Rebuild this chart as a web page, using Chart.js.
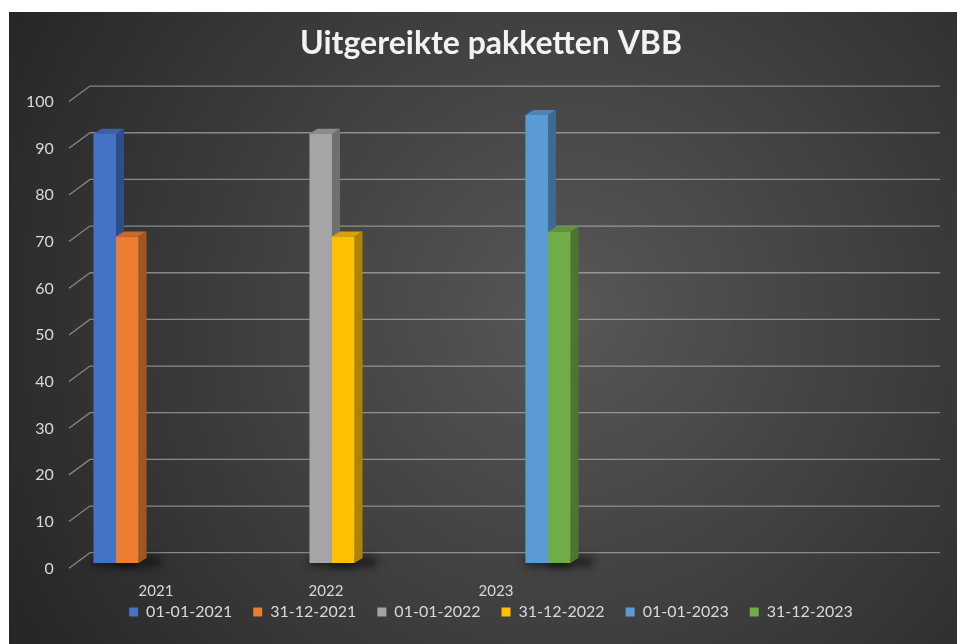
<!DOCTYPE html>
<html>
<head>
<meta charset="utf-8">
<script src="https://cdn.jsdelivr.net/npm/chart.js@4.4.0/dist/chart.umd.min.js"></script>
<style>
  html, body { margin: 0; background: #fff; }
  #wrap { position: absolute; left: 9px; top: 12px; width: 948px; height: 632px; }
</style>
</head>
<body>
<div id="wrap"><canvas id="grafiek" width="948" height="632"></canvas></div>
<script>
// gegevens
const categorieen = ['2021', '2022', '2023'];
const labelsBegin = ['01-01-2021', '01-01-2022', '01-01-2023'];
const labelsEind = ['31-12-2021', '31-12-2022', '31-12-2023'];
const waardenBegin = [92, 92, 96];
const waardenEind = [70, 70, 71];
const yTicks = [0, 10, 20, 30, 40, 50, 60, 70, 80, 90, 100];

const kleurenBegin = ['#4472C4', '#A5A5A5', '#5B9BD5'];
const kleurenEind = ['#ED7D31', '#FFC000', '#70AD47'];

// 3D instellingen (px)
const DX = 8, DY = 5, WAND = 10.3, SCHUIN_X = 21, SCHUIN_Y = 15.5;

function donker(hex, f) {
    const n = parseInt(hex.slice(1), 16);
    const r = Math.round(((n >> 16) & 255) * f), g = Math.round(((n >> 8) & 255) * f), b = Math.round((n & 255) * f);
    return `rgb(${r},${g},${b})`;
}

const datasets = [];
categorieen.forEach((c, i) => {
    datasets.push({ label: labelsBegin[i], data: [{ x: i, y: waardenBegin[i] }], backgroundColor: kleurenBegin[i], stack: 'begin' });
    datasets.push({ label: labelsEind[i], data: [{ x: i, y: waardenEind[i] }], backgroundColor: kleurenEind[i], stack: 'eind' });
});
datasets.forEach(d => { d.xAxisID = 'xBar'; d.yAxisID = 'y'; d.borderWidth = 0; d.categoryPercentage = 0.209; d.barPercentage = 1; });

const achtergrond = {
    id: 'achtergrond',
    beforeDraw(chart) {
        const { ctx, width, height } = chart;
        const g = ctx.createRadialGradient(560, 300, 20, 560, 300, 640);
        g.addColorStop(0, '#565656');
        g.addColorStop(1, '#262626');
        ctx.save();
        ctx.fillStyle = g;
        ctx.fillRect(0, 0, width, height);
        ctx.restore();
    }
};

const diepte = {
    id: 'diepte',
    beforeDatasetsDraw(chart) {
        const { ctx, chartArea: ca, scales: { y } } = chart;
        ctx.save();
        // rasterlijnen op de achterwand
        ctx.strokeStyle = 'rgba(205,205,205,0.55)';
        ctx.lineWidth = 1.3;
        yTicks.forEach(v => {
            const yb = y.getPixelForValue(v) - WAND;
            ctx.beginPath();
            ctx.moveTo(ca.left - SCHUIN_X, yb + SCHUIN_Y);
            ctx.lineTo(ca.left, yb);
            ctx.lineTo(ca.right, yb);
            ctx.stroke();
        });
        const balken = [];
        chart.data.datasets.forEach((ds, i) => {
            chart.getDatasetMeta(i).data.forEach(el => balken.push({ el, kleur: ds.backgroundColor }));
        });
        // schaduw op de vloer
        ctx.filter = 'blur(5px)';
        ctx.fillStyle = 'rgba(0,0,0,0.6)';
        balken.forEach(({ el }) => {
            const l = el.x - el.width / 2, r = el.x + el.width / 2;
            ctx.fillRect(l, el.base - 6, r + DX + 14 - l, 9);
        });
        ctx.filter = 'none';
        // zijkant en bovenkant
        balken.forEach(({ el, kleur }) => {
            const l = el.x - el.width / 2, r = el.x + el.width / 2;
            ctx.fillStyle = donker(kleur, 0.68);
            ctx.beginPath();
            ctx.moveTo(r, el.y); ctx.lineTo(r + DX, el.y - DY); ctx.lineTo(r + DX, el.base - DY); ctx.lineTo(r, el.base);
            ctx.closePath(); ctx.fill();
            ctx.fillStyle = donker(kleur, 0.85);
            ctx.beginPath();
            ctx.moveTo(l, el.y); ctx.lineTo(l + DX, el.y - DY); ctx.lineTo(r + DX, el.y - DY); ctx.lineTo(r, el.y);
            ctx.closePath(); ctx.fill();
        });
        ctx.restore();
    }
};

new Chart(document.getElementById('grafiek'), {
    type: 'bar',
    data: { datasets },
    plugins: [achtergrond, diepte],
    options: {
        responsive: false, animation: false, devicePixelRatio: 1,
        layout: { padding: { left: 33, right: 17, top: 0, bottom: 14 } },
        plugins: {
            title: {
                display: true, text: 'Uitgereikte pakketten VBB', color: '#f2f2f2',
                font: { family: 'Lato', size: 32, weight: 'bold' }, padding: { top: 12, bottom: 34 }
            },
            legend: {
                position: 'bottom',
                labels: { color: '#d9d9d9', font: { family: 'Lato', size: 16 }, boxWidth: 9, boxHeight: 9, padding: 21 }
            },
            tooltip: { enabled: false }
        },
        scales: {
            xBar: {
                type: 'linear', display: false, offset: false, min: -0.1204, max: 3.815,
                afterBuildTicks: s => { s.ticks = categorieen.map((c, i) => ({ value: i })); }
            },
            x: {
                type: 'category', labels: [...categorieen, '', ''], position: { y: 0 }, offset: true,
                grid: { display: false, drawTicks: false }, border: { display: false },
                ticks: { color: '#d9d9d9', font: { family: 'Lato', size: 15 }, padding: 19, labelOffset: -19, autoSkip: false, maxRotation: 0 }
            },
            y: {
                min: -4.285, max: 100,
                afterBuildTicks: s => { s.ticks = yTicks.map(v => ({ value: v })); },
                afterFit: s => { s.width = 48; },
                grid: { display: false, drawTicks: false }, border: { display: false },
                ticks: { color: '#d9d9d9', font: { family: 'Lato', size: 16 }, mirror: true, crossAlign: 'far', padding: -64, labelOffset: 5.5 }
            }
        }
    }
});
</script>
</body>
</html>
